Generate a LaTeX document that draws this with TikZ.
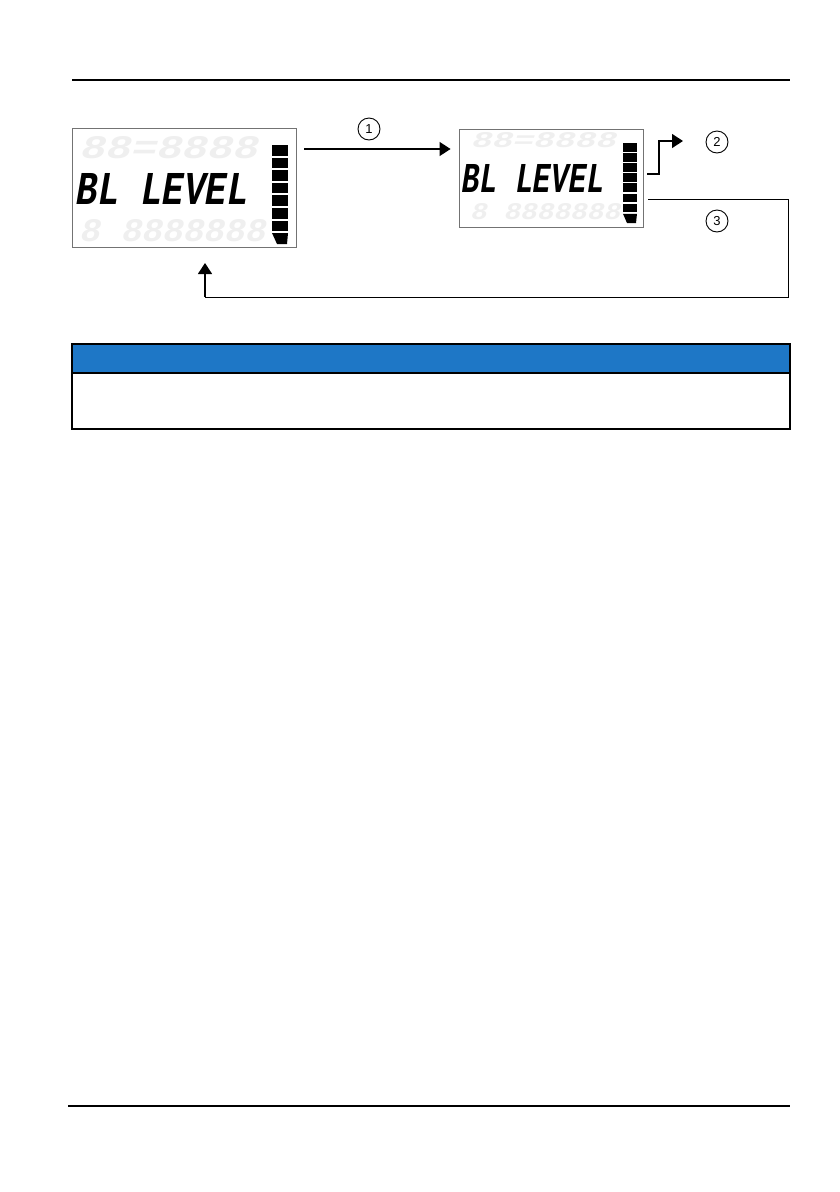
\documentclass[tikz,border=0pt]{standalone}
\usepackage{fontspec}
\usetikzlibrary{arrows.meta}
\newfontfamily\lcdfont[FakeSlant=0.22]{Liberation Mono}
\newfontfamily\numfont{Liberation Sans}
\definecolor{hdrblue}{HTML}{1E77C6}
\definecolor{ghost}{HTML}{EFEFEF}
\tikzset{
  lcdbox/.style={draw=black!55, line width=0.9pt, fill=white, inner sep=0pt},
  seg/.style={fill=black, draw=none},
  conn/.style={line width=1.3pt, draw=black},
  arr/.style={conn, -{Triangle[length=11pt,width=14pt]}},
  numcirc/.style={circle, draw=black, line width=0.9pt, minimum size=22pt, inner sep=0pt, font=\numfont\fontsize{13pt}{13pt}\selectfont},
  ghosttext/.style={text=ghost, inner sep=0pt, font=\lcdfont\bfseries},
  rule/.style={line width=2pt, draw=black},
}
\begin{document}
\begin{tikzpicture}[x=1pt,y=-1pt]
\useasboundingbox (0,0) rectangle (840,1192);
\fill[white] (0,0) rectangle (840,1192);
% top and bottom rules
\draw[rule] (72,80) -- (790,80);
\draw[rule] (68,1106) -- (790,1106);

% LCD 1
\node[lcdbox, minimum width=224pt, minimum height=119pt] (lcd1) at (184,187.5) {};
\node[ghosttext] (g1a) at (168,148) {\resizebox{178pt}{22pt}{88=8888}};
\node[ghosttext] (g1b) at (172,231) {\resizebox{186pt}{22pt}{8 8888888}};
\node[inner sep=0pt] (t1) at (161,188.5) {\resizebox{172pt}{31pt}{\lcdfont\bfseries BL LEVEL}};
\foreach \i in {0,...,6} {
  \fill[seg] (272,145+\i*12.6) rectangle (288,155.5+\i*12.6);
}
\fill[seg] (272,233) -- (288,233) -- (287,244) -- (277,244) -- cycle;

% LCD 2
\node[lcdbox, minimum width=184pt, minimum height=98pt] (lcd2) at (551,178) {};
\node[ghosttext] (g2a) at (543,140) {\resizebox{145pt}{15pt}{88=8888}};
\node[ghosttext] (g2b) at (545,212) {\resizebox{150pt}{16pt}{8 8888888}};
\node[inner sep=0pt] (t2) at (532,178) {\resizebox{142pt}{28pt}{\lcdfont\bfseries BL LEVEL}};
\foreach \i in {0,...,6} {
  \fill[seg] (623,143+\i*10.1) rectangle (637,151.5+\i*10.1);
}
\fill[seg] (623,213.8) -- (637,213.8) -- (636,223) -- (627,223) -- cycle;

% number circles
\node[numcirc] (c1) at (369,129) {1};
\node[numcirc] (c2) at (717,142) {2};
\node[numcirc] (c3) at (717,221) {3};

% connectors
\coordinate (a1s) at (304,149);
\draw[arr, shorten >=8pt] (a1s) -- (lcd2.west |- a1s);

\coordinate (a2s) at (647,174);
\coordinate (a2e) at (683,141);
\draw[arr] (a2s) -- (659,174) -- (659,141) -- (a2e);

\coordinate (a3s) at (648,199);
\coordinate (a3e) at (205,263);
\draw[conn, line width=1pt] (a3s) -- (788,199) -- (788,297) -- (205,297);
\draw[arr] (205,297) -- (a3e);

% table
\fill[hdrblue] (72,344) rectangle (790,373);
\node[draw=black, line width=2pt, minimum width=718pt, minimum height=85pt, inner sep=0pt] (tbl) at (431,386.5) {};
\draw[line width=2pt] (tbl.west |- 0,373) -- (tbl.east |- 0,373);
\end{tikzpicture}
\end{document}
